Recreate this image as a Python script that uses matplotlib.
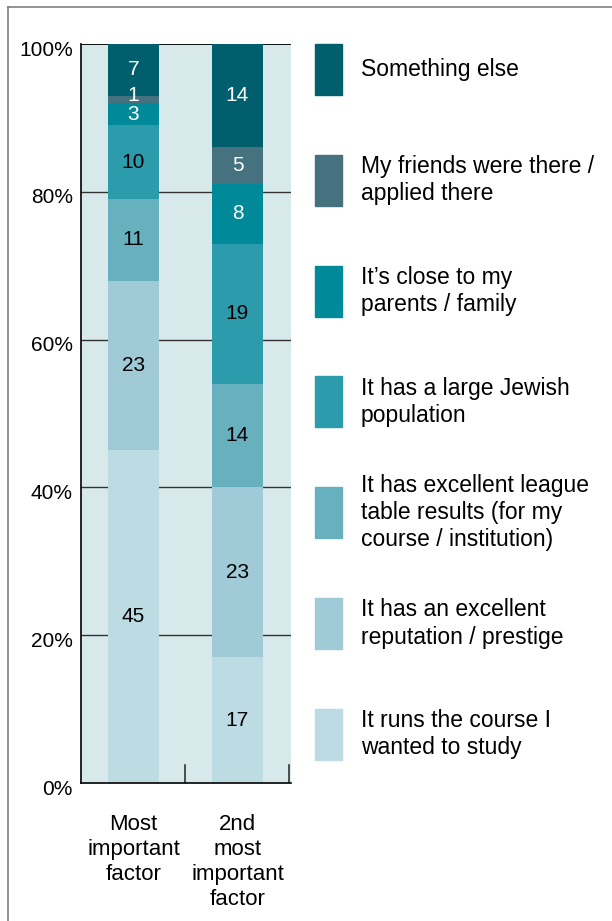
import matplotlib.pyplot as plt
from matplotlib.patches import Rectangle
from matplotlib.lines import Line2D
from matplotlib.transforms import ScaledTranslation

plt.rcParams['font.family'] = ['Liberation Sans', 'DejaVu Sans']

categories = ['Most\nimportant\nfactor', '2nd\nmost\nimportant\nfactor']
# bottom to top
series = [
    'It runs the course I\nwanted to study',
    'It has an excellent\nreputation / prestige',
    'It has excellent league\ntable results (for my\ncourse / institution)',
    'It has a large Jewish\npopulation',
    'It\u2019s close to my\nparents / family',
    'My friends were there /\napplied there',
    'Something else',
]
most_important = [45, 23, 11, 10, 3, 1, 7]
second_important = [17, 23, 14, 19, 8, 5, 14]
colors = ['#bcdbe2', '#9fcad6', '#67b0be', '#2c9cac', '#008998', '#46717f', '#015e6d']
label_colors = ['black', 'black', 'black', 'black', 'white', 'white', 'white']

fig = plt.figure(figsize=(6.12, 9.21), dpi=100)
ax = fig.add_axes([0.1324, 0.1498, 0.3431, 0.8024])
ax.set_facecolor('#d8e9ec')

x = [0, 1]
values = list(zip(most_important, second_important))
bottoms = [0, 0]
for i, name in enumerate(series):
    vals = values[i]
    ax.bar(x, vals, width=0.49, bottom=bottoms, color=colors[i], zorder=2)
    for j in range(2):
        ymid = bottoms[j] + vals[j] / 2
        if vals[j] < 2:
            ymid += 0.6  # tiny segment, nudge its label up a little
        ax.text(x[j], ymid, str(vals[j]), ha='center', va='center',
                fontsize=15, color=label_colors[i], zorder=3)
    bottoms = [bottoms[k] + vals[k] for k in range(2)]

ax.set_xlim(-0.505, 1.515)
ax.set_ylim(0, 100)
ax.set_yticks([0, 20, 40, 60, 80, 100])
ax.set_yticklabels(['0%', '20%', '40%', '60%', '80%', '100%'], fontsize=15)
ax.tick_params(axis='y', length=0, pad=6)
off = ScaledTranslation(0, -4 / 100, fig.dpi_scale_trans)
for lab in ax.get_yticklabels():
    lab.set_transform(lab.get_transform() + off)
for yv in [20, 40, 60, 80]:
    ax.axhline(yv, color='#333333', lw=1, zorder=1)
ax.axhline(100, color='black', lw=1.3, zorder=1)

ax.set_xticks(x)
ax.set_xticklabels(categories, fontsize=16, va='top', linespacing=1.25)
ax.tick_params(axis='x', length=0, pad=22)
for xv in [0.5, 1.5]:
    ax.plot([xv, xv], [0, 2.4], color='#333333', lw=1.2, zorder=1)

for s in ['top', 'right']:
    ax.spines[s].set_visible(False)
ax.spines['left'].set_linewidth(1.2)
ax.spines['bottom'].set_linewidth(1.2)

# legend drawn as its own axes, top row first
lax = fig.add_axes([300 / 612, 0, 312 / 612, 1])
lax.set_xlim(300, 612)
lax.set_ylim(921, 0)
lax.axis('off')
for r, i in enumerate(range(len(series) - 1, -1, -1)):
    top = 44 + r * 110.8
    lax.add_patch(Rectangle((315, top), 27, 51, color=colors[i]))
    lax.text(361, top + 25.5, series[i], ha='left', va='center', fontsize=16.5,
             linespacing=1.23)

# frame lines
fig.add_artist(Line2D([8 / 612, 1], [1 - 7 / 921, 1 - 7 / 921], color='#808080', lw=1.2))
fig.add_artist(Line2D([8 / 612, 8 / 612], [0, 1 - 7 / 921], color='#808080', lw=1.2))

fig.savefig('out.png', dpi=100)
